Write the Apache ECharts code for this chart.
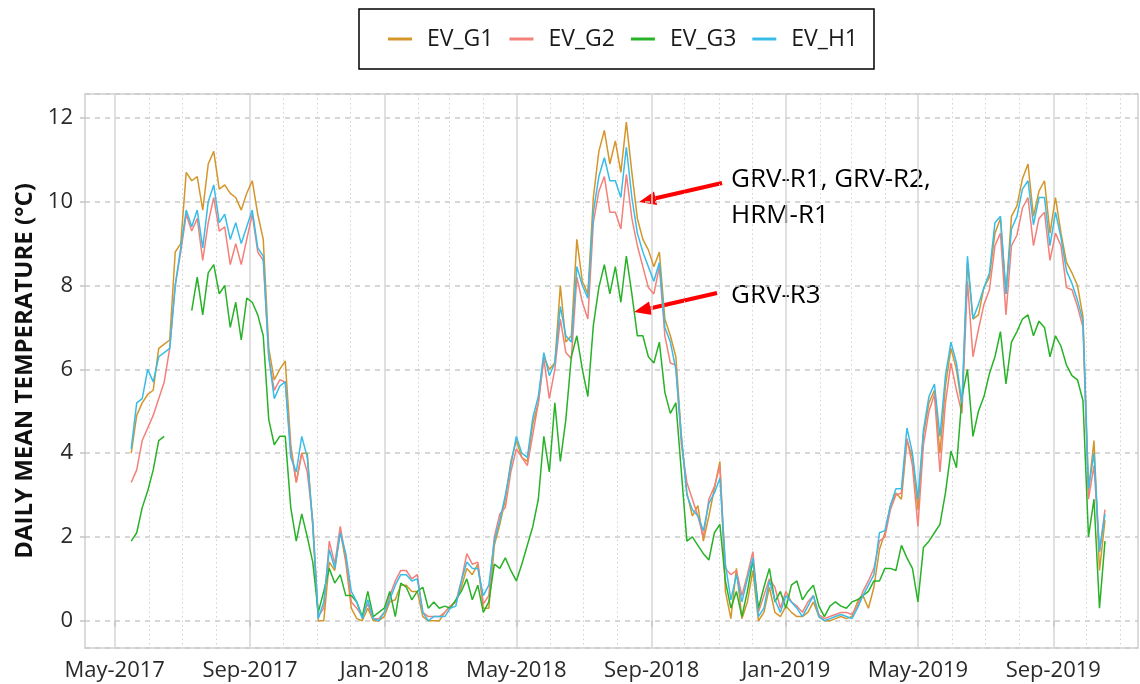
<!DOCTYPE html>
<html>
<head>
<meta charset="utf-8">
<title>Daily mean temperature</title>
<script src="https://cdn.jsdelivr.net/npm/echarts@6/dist/echarts.min.js"></script>
<style>
    html, body { margin: 0; padding: 0; background: #fff; }
    #main { width: 1140px; height: 684px; }
</style>
</head>
<body>
<div id="main"></div>
<script>
// x axis runs day by day; readings are sampled every 5 days from firstSample
var axisStart = '2017-04-04';
var axisEnd = '2019-11-17';
var firstSample = '2017-05-16';
var stepDays = 5;
var monthNames = ['Jan', 'Feb', 'Mar', 'Apr', 'May', 'Jun', 'Jul', 'Aug', 'Sep', 'Oct', 'Nov', 'Dec'];
var labelMonths = ['01', '05', '09'];

var seriesNames = ['EV_G1', 'EV_G2', 'EV_G3', 'EV_H1'];
var seriesColors = ['#d4962a', '#f4807a', '#27b227', '#38bce8'];

var evG1 = [
    4.0, 4.9, 5.2, 5.4, 5.5, 6.5, 6.6, 6.7, 8.8, 9.0,
    10.7, 10.5, 10.6, 9.8, 10.9, 11.2, 10.3, 10.4, 10.2, 10.1,
    9.8, 10.2, 10.5, 9.7, 9.1, 6.5, 5.75, 6.0, 6.2, 4.2,
    3.3, 4.0, 4.0, 2.25, 0.0, 0.0, 1.4, 1.2, 2.15, 1.4,
    0.3, 0.05, 0.0, 0.3, 0.0, 0.0, 0.1, 0.45, 0.5, 0.85,
    0.85, 0.7, 0.7, 0.1, 0.0, 0.0, 0.0, 0.2, 0.35, 0.45,
    0.8, 1.25, 1.1, 1.35, 0.3, 0.3, 1.8, 2.3, 2.9, 3.8,
    4.3, 3.9, 3.8, 4.7, 5.2, 6.3, 6.0, 6.15, 8.0, 6.65,
    6.8, 9.1, 8.1, 7.8, 10.1, 11.2, 11.7, 10.9, 11.45, 10.7,
    11.9, 10.7, 9.6, 9.1, 8.85, 8.45, 8.8, 7.2, 6.8, 6.3,
    4.4, 3.05, 2.5, 2.75, 1.9, 2.5, 3.15, 3.8, 0.7, 0.05,
    1.25, 0.05, 0.45, 1.2, 0.0, 0.2, 0.8, 0.2, 0.1, 0.35,
    0.2, 0.1, 0.1, 0.2, 0.45, 0.1, 0.0, 0.0, 0.05, 0.1,
    0.05, 0.1, 0.45, 0.6, 0.3, 0.8, 1.7, 2.1, 2.75, 3.05,
    2.9, 4.3, 3.9, 2.65, 4.45, 5.2, 5.5, 4.0, 5.6, 6.5,
    6.0, 5.1, 8.55, 7.2, 7.3, 7.95, 8.2, 9.25, 9.6, 7.8,
    9.65, 9.9, 10.55, 10.9, 9.65, 10.25, 10.5, 9.25, 10.1, 9.25,
    8.55, 8.3, 8.0, 7.25, 3.1, 4.3, 1.2, 2.4
];
var evG2 = [
    3.3, 3.6, 4.3, 4.6, 4.9, 5.3, 5.7, 6.5, 8.0, 8.8,
    9.7, 9.3, 9.6, 8.6, 9.5, 10.1, 9.3, 9.4, 8.5, 9.0,
    8.5, 9.1, 9.7, 8.8, 8.6, 6.3, 5.5, 5.75, 5.7, 4.1,
    3.3, 4.0, 3.55, 2.4, 0.1, 0.3, 1.9, 1.35, 2.25, 1.5,
    0.45, 0.3, 0.1, 0.4, 0.05, 0.05, 0.2, 0.6, 0.95, 1.2,
    1.2, 1.0, 1.1, 0.2, 0.1, 0.1, 0.1, 0.2, 0.35, 0.45,
    0.95, 1.6, 1.35, 1.4, 0.4, 0.6, 2.0, 2.55, 2.7, 3.55,
    4.1, 3.9, 3.7, 4.45, 5.2, 6.25, 5.3, 6.0, 7.2, 6.4,
    6.25, 8.2, 7.6, 7.2, 9.5, 10.25, 10.6, 9.75, 9.75, 9.35,
    10.65, 9.6, 8.95, 8.45, 7.95, 7.8, 8.45, 6.8, 6.15, 6.1,
    4.2, 3.3, 2.9, 2.5, 2.0, 2.9, 3.2, 3.7, 1.25, 1.1,
    1.2, 0.6, 1.1, 1.65, 0.2, 0.6, 1.0, 0.8, 0.3, 0.7,
    0.45, 0.35, 0.2, 0.45, 0.6, 0.15, 0.05, 0.1, 0.15, 0.2,
    0.2, 0.15, 0.35, 0.7, 0.95, 1.25, 1.9, 2.0, 2.65, 3.0,
    3.05, 4.35, 3.7, 2.25, 4.2, 5.0, 5.4, 3.55, 5.2, 6.15,
    5.5, 4.95, 8.1, 6.3, 6.95, 7.55, 7.9, 8.95, 9.25, 7.3,
    8.95, 9.2, 9.85, 10.1, 8.95, 9.6, 9.75, 8.6, 9.25, 8.95,
    7.95, 7.9, 7.5, 7.0, 2.9, 3.7, 1.65, 2.65
];
var evG3 = [
    1.9, 2.1, 2.7, 3.1, 3.6, 4.3, 4.4, null, null, null,
    null, 7.4, 8.2, 7.3, 8.3, 8.5, 7.8, 8.0, 7.0, 7.6,
    6.7, 7.7, 7.6, 7.3, 6.8, 4.8, 4.2, 4.4, 4.4, 2.7,
    1.9, 2.55, 2.0, 1.4, 0.2, 0.7, 1.25, 0.9, 1.1, 0.6,
    0.6, 0.45, 0.1, 0.7, 0.1, 0.2, 0.3, 0.7, 0.1, 0.9,
    0.8, 0.5, 0.7, 0.8, 0.3, 0.45, 0.3, 0.35, 0.3, 0.5,
    0.7, 1.0, 0.5, 0.85, 0.2, 0.45, 1.35, 1.25, 1.5, 1.2,
    0.95, 1.35, 1.8, 2.25, 2.9, 4.4, 3.55, 5.2, 3.8, 4.8,
    6.3, 6.8, 6.0, 5.35, 7.05, 7.95, 8.5, 7.8, 8.45, 7.6,
    8.7, 7.8, 6.8, 6.8, 6.3, 6.15, 6.65, 5.45, 4.95, 5.2,
    3.55, 1.9, 2.0, 1.8, 1.6, 1.45, 2.1, 2.3, 0.95, 0.3,
    0.7, 0.1, 0.7, 1.45, 0.3, 0.8, 1.25, 0.45, 0.7, 0.3,
    0.85, 0.95, 0.5, 0.7, 0.85, 0.35, 0.1, 0.35, 0.45, 0.35,
    0.3, 0.45, 0.5, 0.6, 0.7, 0.95, 0.95, 1.25, 1.25, 1.2,
    1.8, 1.5, 1.25, 0.45, 1.75, 1.9, 2.1, 2.3, 3.05, 4.05,
    3.65, 5.35, 6.0, 4.4, 5.0, 5.35, 5.9, 6.3, 6.9, 5.65,
    6.65, 6.9, 7.2, 7.3, 6.8, 7.15, 7.0, 6.3, 6.8, 6.55,
    6.1, 5.85, 5.75, 5.25, 2.0, 2.9, 0.3, 1.9
];
var evH1 = [
    4.1, 5.2, 5.3, 6.0, 5.7, 6.3, 6.4, 6.5, 8.0, 8.9,
    9.8, 9.4, 9.8, 8.9, 10.0, 10.4, 9.5, 9.7, 9.1, 9.5,
    9.0, 9.4, 9.8, 8.9, 8.7, 6.3, 5.3, 5.6, 5.7, 3.9,
    3.55, 4.4, 3.9, 2.3, 0.05, 0.45, 1.7, 1.25, 2.1, 1.6,
    0.7, 0.45, 0.05, 0.5, 0.05, 0.0, 0.2, 0.5, 0.85, 1.1,
    1.1, 0.95, 1.0, 0.2, 0.0, 0.1, 0.1, 0.1, 0.3, 0.35,
    0.95, 1.4, 1.25, 1.25, 0.6, 0.85, 1.9, 2.4, 3.0, 3.7,
    4.4, 4.0, 3.9, 4.85, 5.35, 6.4, 5.85, 6.15, 7.5, 6.8,
    6.65, 8.45, 8.0, 7.7, 9.75, 10.6, 11.05, 10.5, 10.5, 10.1,
    11.3, 10.1, 9.25, 8.8, 8.45, 8.1, 8.55, 7.0, 6.65, 6.0,
    4.4, 3.0, 2.65, 2.5, 2.15, 2.8, 3.05, 3.4, 1.35, 0.5,
    1.1, 0.45, 1.0, 1.5, 0.1, 0.3, 0.95, 0.5, 0.2, 0.6,
    0.45, 0.3, 0.1, 0.35, 0.6, 0.1, 0.0, 0.05, 0.1, 0.15,
    0.1, 0.05, 0.3, 0.6, 0.85, 1.1, 2.1, 2.15, 2.75, 3.15,
    3.15, 4.6, 4.0, 2.9, 4.55, 5.35, 5.65, 4.4, 5.85, 6.65,
    6.15, 5.2, 8.7, 7.2, 7.55, 7.95, 8.3, 9.5, 9.65, 7.8,
    9.35, 9.65, 10.3, 10.5, 9.45, 10.1, 10.1, 8.95, 9.75, 9.15,
    8.35, 8.05, 7.65, 7.15, 3.15, 4.0, 1.65, 2.55
];

var DAY = 86400000;
function dayString(t) {
    return new Date(t).toISOString().slice(0, 10);
}

var days = [];
for (var t = Date.parse(axisStart); t <= Date.parse(axisEnd); t += DAY) {
    days.push(dayString(t));
}
var sampleDates = evH1.map(function (v, i) {
    return dayString(Date.parse(firstSample) + i * stepDays * DAY);
});

function isMajor(idx, val) {
    return val.slice(8) === '01' && labelMonths.indexOf(val.slice(5, 7)) >= 0;
}
function isMinor(idx, val) {
    return val.slice(8) === '01' && !isMajor(idx, val);
}

function arrow(x1, y1, x2, y2) {
    var ang = Math.atan2(y2 - y1, x2 - x1);
    var len = 17, half = 7;
    var bx = x2 - len * Math.cos(ang), by = y2 - len * Math.sin(ang);
    var px = -Math.sin(ang) * half, py = Math.cos(ang) * half;
    return [
        { type: 'line', shape: { x1: x1, y1: y1, x2: bx, y2: by }, style: { stroke: '#ff0000', lineWidth: 4 } },
        { type: 'polygon', shape: { points: [[x2, y2], [bx + px, by + py], [bx - px, by - py]] }, style: { fill: '#ff0000' } }
    ];
}

var font = 'Open Sans';
var seriesData = [evG1, evG2, evG3, evH1];

var chart = echarts.init(document.getElementById('main'));
chart.setOption({
    backgroundColor: '#fff',
    animation: false,
    textStyle: { fontFamily: font },
    legend: {
        data: seriesNames,
        left: 359,
        top: 9,
        padding: [17, 16, 17, 29],
        itemGap: 16,
        itemWidth: 24,
        itemHeight: 3,
        icon: 'rect',
        borderColor: '#000',
        borderWidth: 1.5,
        textStyle: { fontFamily: font, fontSize: 23, color: '#1a1a1a', padding: [0, 0, 0, 10], lineHeight: 26 }
    },
    grid: {
        left: 85,
        right: 2,
        top: 94,
        bottom: 36,
        show: true,
        borderColor: '#cfcfcf',
        borderWidth: 1.5
    },
    xAxis: [{
        type: 'category',
        data: days,
        boundaryGap: false,
        axisLine: { show: false },
        axisTick: { show: true, interval: isMajor, length: 6, lineStyle: { color: '#c4c4c4', width: 1.5 } },
        axisLabel: {
            interval: isMajor,
            fontSize: 22,
            color: '#2a2a2a',
            margin: 12,
            formatter: function (val) {
                return monthNames[parseInt(val.slice(5, 7), 10) - 1] + '-' + val.slice(0, 4);
            }
        },
        splitLine: { show: true, interval: isMajor, lineStyle: { color: '#d6d6d6', width: 1.5 } }
    }, {
        type: 'category',
        data: days,
        boundaryGap: false,
        axisLine: { show: false },
        axisTick: { show: false },
        axisLabel: { show: false },
        splitLine: { show: true, interval: isMinor, lineStyle: { color: '#d2d2d2', width: 1, type: [1.5, 3] } }
    }],
    yAxis: {
        type: 'value',
        min: -0.65,
        max: 12.57,
        splitNumber: 6,
        name: 'DAILY MEAN TEMPERATURE (°C)',
        nameLocation: 'middle',
        nameGap: 45,
        nameTextStyle: { fontFamily: font, fontWeight: 'bold', fontSize: 24, color: '#111' },
        axisLine: { show: false },
        axisTick: { show: true, length: 5, lineStyle: { color: '#c4c4c4', width: 1.5 } },
        axisLabel: {
            fontSize: 22,
            color: '#2a2a2a',
            margin: 12,
            showMinLabel: false,
            showMaxLabel: false,
            formatter: function (v) {
                return Math.abs(v - Math.round(v)) < 1e-6 ? String(Math.round(v)) : '';
            }
        },
        splitLine: { lineStyle: { color: '#cacaca', width: 1.5, type: [5, 5] } }
    },
    series: seriesNames.map(function (name, k) {
        return {
            name: name,
            type: 'line',
            showSymbol: false,
            symbol: 'none',
            connectNulls: false,
            color: seriesColors[k],
            lineStyle: { width: 1.5, color: seriesColors[k] },
            data: sampleDates.map(function (d, i) { return [d, seriesData[k][i]]; })
        };
    }),
    graphic: [
        {
            type: 'text', left: 731, top: 162,
            style: { text: 'GRV-R1, GRV-R2,\nHRM-R1', fontFamily: font, fontSize: 26, lineHeight: 36, fill: '#000' }
        },
        {
            type: 'text', left: 731, top: 278,
            style: { text: 'GRV-R3', fontFamily: font, fontSize: 26, lineHeight: 36, fill: '#000' }
        }
    ].concat(arrow(722, 183, 639, 202), arrow(717, 293, 634, 312))
});
</script>
</body>
</html>
